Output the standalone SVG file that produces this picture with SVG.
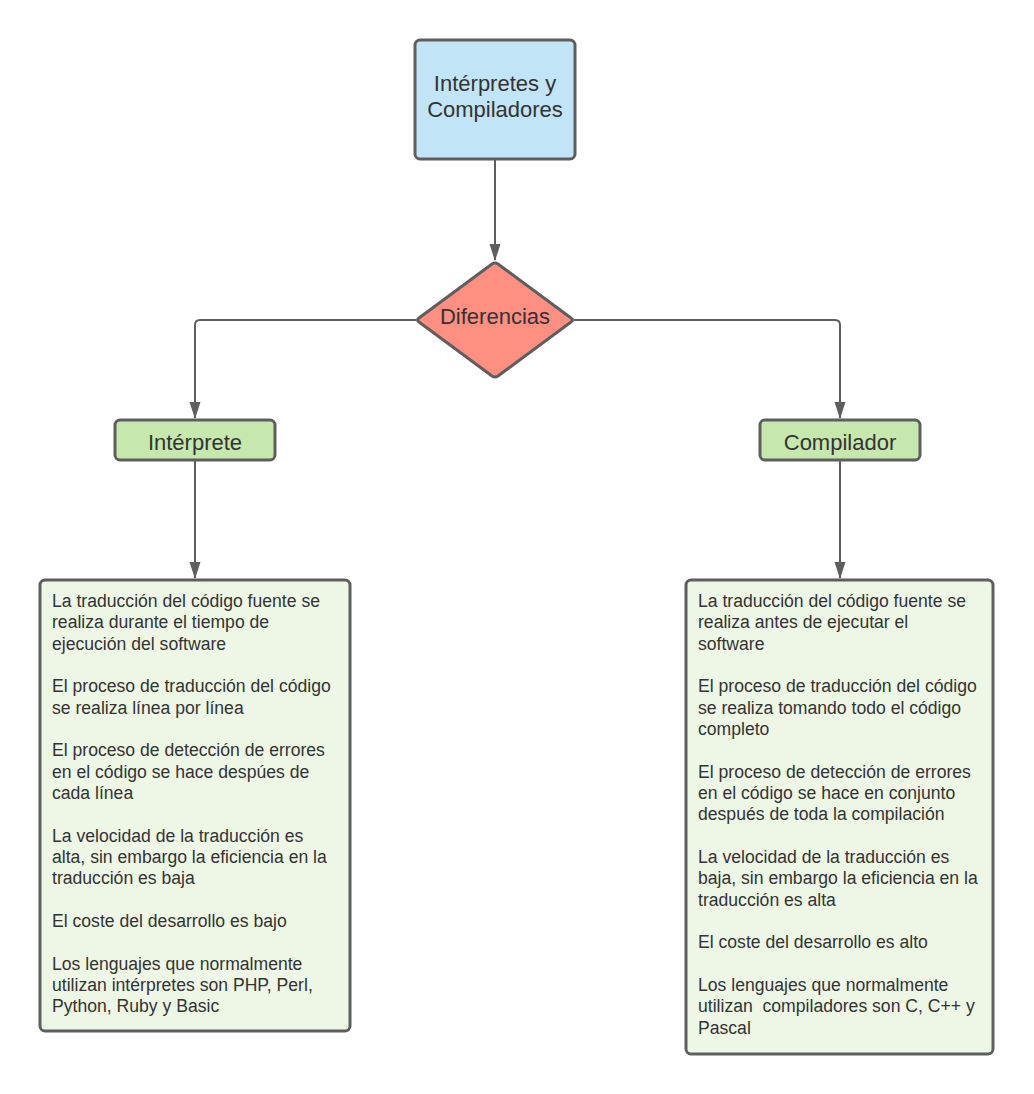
<svg xmlns="http://www.w3.org/2000/svg" width="1034" height="1094" viewBox="0 0 1034 1094">
<defs>
<style>
.node{stroke:#5e5e5e;stroke-width:3;}
.conn{fill:none;stroke:#5e5e5e;stroke-width:2;}
.title{font-family:"Liberation Sans",Arial,sans-serif;font-size:22px;fill:#333333;text-anchor:middle;}
.body{font-family:"Liberation Sans",Arial,sans-serif;font-size:17.6px;fill:#333333;}
</style>
<marker id="arr" markerWidth="17" markerHeight="12" refX="16" refY="6" orient="auto" markerUnits="userSpaceOnUse" viewBox="0 0 17 12">
<path d="M0,0.5 L17,6 L0,11.5 Z" fill="#5e5e5e"/>
</marker>
</defs>
<rect width="1034" height="1094" fill="#ffffff"/>
<g id="connectors">
<line class="conn" x1="495" y1="160" x2="495" y2="260" marker-end="url(#arr)"/>
<path class="conn" d="M416,320 H200 Q195,320 195,325 V418" marker-end="url(#arr)"/>
<path class="conn" d="M574,320 H835 Q840,320 840,325 V418" marker-end="url(#arr)"/>
<line class="conn" x1="195" y1="461" x2="195" y2="578" marker-end="url(#arr)"/>
<line class="conn" x1="840" y1="461" x2="840" y2="578" marker-end="url(#arr)"/>
</g>
<g id="top">
<rect class="node" x="415" y="40" width="160" height="119" rx="5" fill="#c2e4f7"/>
<text class="title" x="495" y="91">Intérpretes y</text>
<text class="title" x="495" y="117">Compiladores</text>
</g>
<g id="diferencias">
<path class="node" d="M492,264 Q495,262 498,264 L571,318 Q574,320 571,322 L498,376 Q495,378 492,376 L419,322 Q416,320 419,318 Z" fill="#ff8f80"/>
<text class="title" x="495" y="323.5">Diferencias</text>
</g>
<g id="interprete">
<rect class="node" x="115" y="420" width="160" height="40" rx="5" fill="#c6e7ad"/>
<text class="title" x="195" y="449.5">Intérprete</text>
</g>
<g id="compilador">
<rect class="node" x="760" y="420" width="160" height="40" rx="5" fill="#c6e7ad"/>
<text class="title" x="840" y="449.5">Compilador</text>
</g>
<g id="interprete-detalle">
<rect class="node" x="40" y="580" width="310" height="451" rx="5" fill="#eef7e6"/>
<text class="body">
<tspan x="52" y="607">La traducción del código fuente se</tspan>
<tspan x="52" y="628.3">realiza durante el tiempo de</tspan>
<tspan x="52" y="649.7">ejecución del software</tspan>
<tspan x="52" y="692.3">El proceso de traducción del código</tspan>
<tspan x="52" y="713.7">se realiza línea por línea</tspan>
<tspan x="52" y="756.3">El proceso de detección de errores</tspan>
<tspan x="52" y="777.7">en el código se hace despúes de</tspan>
<tspan x="52" y="799">cada línea</tspan>
<tspan x="52" y="841.7">La velocidad de la traducción es</tspan>
<tspan x="52" y="863">alta, sin embargo la eficiencia en la</tspan>
<tspan x="52" y="884.3">traducción es baja</tspan>
<tspan x="52" y="927">El coste del desarrollo es bajo</tspan>
<tspan x="52" y="969.7">Los lenguajes que normalmente</tspan>
<tspan x="52" y="991">utilizan intérpretes son PHP, Perl,</tspan>
<tspan x="52" y="1012.3">Python, Ruby y Basic</tspan>
</text>
</g>
<g id="compilador-detalle">
<rect class="node" x="686" y="580" width="307" height="474" rx="5" fill="#eef7e6"/>
<text class="body">
<tspan x="698" y="607">La traducción del código fuente se</tspan>
<tspan x="698" y="628.3">realiza antes de ejecutar el</tspan>
<tspan x="698" y="649.7">software</tspan>
<tspan x="698" y="692.3">El proceso de traducción del código</tspan>
<tspan x="698" y="713.7">se realiza tomando todo el código</tspan>
<tspan x="698" y="735">completo</tspan>
<tspan x="698" y="777.7">El proceso de detección de errores</tspan>
<tspan x="698" y="799">en el código se hace en conjunto</tspan>
<tspan x="698" y="820.3">después de toda la compilación</tspan>
<tspan x="698" y="863">La velocidad de la traducción es</tspan>
<tspan x="698" y="884.3">baja, sin embargo la eficiencia en la</tspan>
<tspan x="698" y="905.7">traducción es alta</tspan>
<tspan x="698" y="948.3">El coste del desarrollo es alto</tspan>
<tspan x="698" y="991">Los lenguajes que normalmente</tspan>
<tspan x="698" y="1012.3" xml:space="preserve">utilizan  compiladores son C, C++ y</tspan>
<tspan x="698" y="1033.7">Pascal</tspan>
</text>
</g>
</svg>
